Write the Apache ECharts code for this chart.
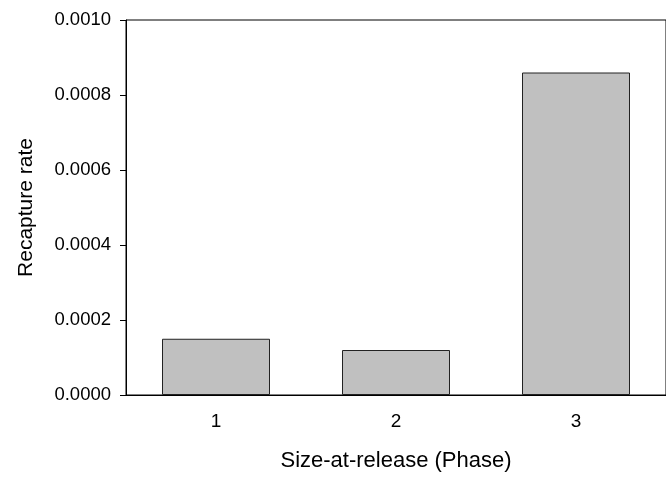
<!DOCTYPE html>
<html><head><meta charset="utf-8">
<script src="https://cdn.jsdelivr.net/npm/echarts@6/dist/echarts.min.js"></script>
<style>html,body{margin:0;padding:0;background:#fff}#c{width:666px;height:477px}</style>
</head><body><div id="c"></div>
<script>
const categories = ['1', '2', '3'];
const recaptureRate = [0.00015, 0.00012, 0.00086];
const yTicks = { min: 0, max: 0.001, interval: 0.0002 };

const chart = echarts.init(document.getElementById('c'), null, {renderer: 'canvas'});
const font = '"Liberation Sans", Arial, sans-serif';
chart.setOption({
  animation: false,
  backgroundColor: '#fff',
  grid: { left: 126, top: 20, width: 541, height: 378, show: true, borderColor: '#000', borderWidth: 1, backgroundColor: 'transparent' },
  xAxis: {
    type: 'category', data: categories,
    name: 'Size-at-release (Phase)', nameLocation: 'middle', nameGap: 55,
    nameTextStyle: { fontFamily: font, fontSize: 22, color: '#000' },
    axisLine: { lineStyle: { color: '#000', width: 1 } },
    axisTick: { alignWithLabel: true, length: 6, lineStyle: { color: '#000' } },
    axisLabel: { fontFamily: font, fontSize: 19, color: '#000', margin: 17 }
  },
  yAxis: {
    type: 'value', min: yTicks.min, max: yTicks.max, interval: yTicks.interval,
    name: 'Recapture rate', nameLocation: 'middle', nameGap: 89,
    nameTextStyle: { fontFamily: font, fontSize: 21, color: '#000' },
    splitLine: { show: false },
    axisLine: { show: true, lineStyle: { color: '#000', width: 1 } },
    axisTick: { show: true, length: 6, lineStyle: { color: '#000' } },
    axisLabel: { fontFamily: font, fontSize: 18.5, color: '#000', margin: 15, formatter: v => v.toFixed(4) }
  },
  series: [{
    type: 'bar', data: recaptureRate, barWidth: '60%',
    itemStyle: { color: '#c0c0c0', borderColor: '#222', borderWidth: 1 }
  }]
});
</script></body></html>
